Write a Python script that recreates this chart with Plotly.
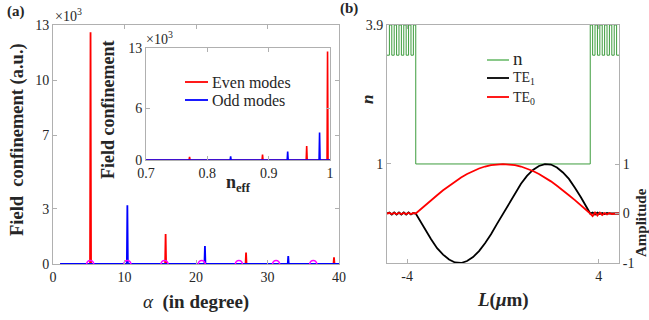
import plotly.graph_objects as go

W, H = 649, 320
FONT = "Liberation Serif"
TXT = "#262626"
AX = "#b0b0b0"


def px(x):
    return x / W


def py(y):
    return 1 - y / H


# ---------------- panel (a) data ----------------
alpha_even = [5.25, 15.75, 27.0, 39.3]          # degrees
conf_even = [12.6, 1.63, 0.62, 0.36]            # x10^3 a.u.
alpha_odd = [10.4, 21.25, 32.9]
conf_odd = [3.2, 0.98, 0.43]
neff_even = [0.996, 0.962, 0.890, 0.771]
neff_odd = [0.983, 0.931, 0.838]
alpha_marks = [5.2, 10.4, 15.6, 20.8, 26.0, 31.2, 36.4]
alpha_span = [1.0, 40.0]
neff_span = [0.7, 1.0]

# ---------------- panel (b) data ----------------
n_x = [-4.84, -4.74, -4.64, -4.54, -4.44, -4.34, -4.24, -4.14, -4.04, -3.94, -3.84, -3.74, -3.64,
       3.64, 3.74, 3.84, 3.94, 4.04, 4.14, 4.24, 4.34, 4.44, 4.54, 4.64, 4.74, 4.84]
n_val = [3.27, 3.9, 3.27, 3.9, 3.27, 3.9, 3.27, 3.9, 3.27, 3.9, 3.27, 3.9, 1.0,
         3.9, 3.27, 3.9, 3.27, 3.9, 3.27, 3.9, 3.27, 3.9, 3.27, 3.9, 3.27, 3.27]

clad_left_x = [-4.84, -4.74, -4.64, -4.54, -4.44, -4.34, -4.24, -4.14, -4.04, -3.94, -3.84, -3.74]
core_x = [-3.64, -3.25, -3.0, -2.75, -2.5, -2.25, -2.0, -1.75, -1.5, -1.25, -1.0, -0.75, -0.5, -0.25, 0.0,
          0.25, 0.5, 0.75, 1.0, 1.25, 1.5, 1.75, 2.0, 2.25, 2.5, 2.75, 3.0, 3.25, 3.64]
clad_right_x = [3.74, 3.84, 3.94, 4.04, 4.14, 4.24, 4.34, 4.44, 4.54, 4.64, 4.74, 4.84]

te0_left = [0.0, 0.01, -0.01, 0.01, -0.01, 0.01, -0.01, 0.01, -0.01, 0.01, -0.01, 0.01]
te0_core = [0.0, 0.17, 0.27, 0.37, 0.47, 0.56, 0.65, 0.73, 0.80, 0.86, 0.91, 0.95, 0.98, 0.99, 1.0,
            0.99, 0.98, 0.95, 0.91, 0.86, 0.80, 0.73, 0.65, 0.56, 0.47, 0.37, 0.27, 0.17, 0.0]
te0_right = [-0.05, 0.02, -0.04, 0.02, -0.03, 0.01, -0.02, 0.01, -0.01, 0.0, 0.0, 0.0]

te1_left = [0.0, 0.02, -0.02, 0.02, -0.02, 0.02, -0.02, 0.02, -0.02, 0.02, -0.02, 0.01]
te1_core = [0.0, -0.33, -0.52, -0.70, -0.83, -0.93, -0.99, -1.0, -0.96, -0.88, -0.76, -0.60, -0.42, -0.21, 0.0,
            0.21, 0.42, 0.60, 0.76, 0.88, 0.96, 1.0, 0.99, 0.93, 0.83, 0.70, 0.52, 0.33, 0.0]
te1_right = [0.02, -0.02, 0.02, -0.01, 0.01, -0.01, 0.01, 0.0, 0.0, 0.0, 0.0, 0.0]


def spikes(peaks, heights, span, half):
    pairs = sorted(zip(peaks, heights))
    xs, ys = [span[0]], [0]
    for p, h in pairs:
        xs += [p - half, p, p + half]
        ys += [0, h, 0]
    xs.append(span[1])
    ys.append(0)
    return xs, ys


fig = go.Figure()

# panel (a) main
ex, ey = spikes(alpha_even, conf_even, alpha_span, 0.07)
ox, oy = spikes(alpha_odd, conf_odd, alpha_span, 0.07)
fig.add_trace(go.Scatter(x=ex, y=ey, mode="lines", line=dict(color="#ff0000", width=1.8),
                         showlegend=False, xaxis="x", yaxis="y"))
fig.add_trace(go.Scatter(x=ox, y=oy, mode="lines", line=dict(color="#0000ff", width=1.8),
                         showlegend=False, xaxis="x", yaxis="y"))
fig.add_trace(go.Scatter(x=alpha_marks, y=[0] * len(alpha_marks), mode="markers",
                         marker=dict(symbol="circle-open", size=7, color="#ff00ff", line=dict(width=1.6)),
                         showlegend=False, xaxis="x", yaxis="y"))

# inset
iex, iey = spikes(neff_even, conf_even, neff_span, 0.0008)
iox, ioy = spikes(neff_odd, conf_odd, neff_span, 0.0008)
fig.add_trace(go.Scatter(x=iex, y=iey, mode="lines", line=dict(color="#ff0000", width=1.6),
                         name="Even modes", showlegend=False, xaxis="x2", yaxis="y2"))
fig.add_trace(go.Scatter(x=iox, y=ioy, mode="lines", line=dict(color="#0000ff", width=1.6),
                         name="Odd modes", showlegend=False, xaxis="x2", yaxis="y2"))

# panel (b)
fig.add_trace(go.Scatter(x=n_x, y=n_val, mode="lines", line=dict(color="#3d9c3d", width=1, shape="hv"),
                         name="n", showlegend=False, xaxis="x3", yaxis="y3"))
fig.add_trace(go.Scatter(x=clad_left_x + core_x + clad_right_x, y=te1_left + te1_core + te1_right,
                         mode="lines", line=dict(color="#000000", width=1.8),
                         name="TE1", showlegend=False, xaxis="x3", yaxis="y4"))
fig.add_trace(go.Scatter(x=clad_left_x + core_x + clad_right_x, y=te0_left + te0_core + te0_right,
                         mode="lines", line=dict(color="#ff0000", width=1.8),
                         name="TE0", showlegend=False, xaxis="x3", yaxis="y4"))

tickfont = dict(family=FONT, size=14, color=TXT)
common = dict(showline=True, linecolor=AX, linewidth=1, ticks="inside", ticklen=4, tickcolor=AX,
              showgrid=False, zeroline=False, tickfont=tickfont, automargin=False)

fig.update_layout(
    template="none",
    width=W, height=H, margin=dict(l=0, r=0, t=0, b=0, pad=0),
    paper_bgcolor="white", plot_bgcolor="white", showlegend=False,
    font=dict(family=FONT, color=TXT),
    xaxis=dict(domain=[px(53), px(339)], range=[0, 40], tickvals=[0, 10, 20, 30, 40],
               mirror="ticks", anchor="y", **common),
    yaxis=dict(domain=[py(264), py(25)], range=[0, 13], tickvals=[0, 3, 7, 10, 13],
               mirror="ticks", anchor="x", **common),
    xaxis2=dict(domain=[px(146), px(330)], range=[0.7, 1.0], tickvals=[0.7, 0.8, 0.9, 1.0],
                ticktext=["0.7", "0.8", "0.9", "1"], mirror="ticks", anchor="y2", **common),
    yaxis2=dict(domain=[py(160), py(48)], range=[0, 13], tickvals=[0, 6, 13],
                mirror="ticks", anchor="x2", **common),
    xaxis3=dict(domain=[px(387), px(619)], range=[-4.84, 4.84], tickvals=[-4, 4],
                ticktext=["-4", "4"], mirror="ticks", anchor="y3", **common),
    yaxis3=dict(domain=[py(263), py(25)], range=[-1.067, 3.9], tickvals=[1, 3.9],
                ticktext=["1", "3.9"], anchor="x3", **common),
    yaxis4=dict(domain=[py(263), py(25)], range=[-1, 3.81], tickvals=[-1, 0, 1],
                ticktext=["-1", "0", "1"], overlaying="y3", side="right", anchor="x3", **common),
)

ann = []
shapes = []


def add(text, x, y, size, angle=0, xa="center"):
    ann.append(dict(text=text, x=px(x), y=py(y), xref="paper", yref="paper", showarrow=False,
                    xanchor=xa, yanchor="middle", textangle=angle,
                    font=dict(family=FONT, size=size, color=TXT)))


def key(x0, x1, y, color, width=1.8):
    shapes.append(dict(type="line", xref="paper", yref="paper", x0=px(x0), x1=px(x1),
                       y0=py(y), y1=py(y), line=dict(color=color, width=width)))


add("<b>(a)</b>", 16, 12, 15)
add("×10<sup>3</sup>", 68, 15, 14)
add("×10<sup>3</sup>", 159, 38, 14)
add("<b>Field  confinement (a.u.)</b>", 17, 140, 18.5, -90)
add("<i>α</i>  <b>(in degree)</b>", 196, 302, 19)
add("<b>Field confinement</b>", 108, 110, 18, -90)
add("<b>n<sub>eff</sub></b>", 238, 183, 18)
add("<b>(b)</b>", 349, 9, 15)
add("<b><i>n</i></b>", 367, 100, 17, -90)
add("<b>Amplitude</b>", 641, 223, 15, -90)
add("<b><i>L</i>(<i>μ</i>m)</b>", 503, 300, 19)

# inset legend
key(185, 208, 82, "#ff0000")
add("Even modes", 210, 82, 16, xa="left")
key(185, 208, 100, "#0000ff")
add("Odd modes", 210, 100, 16, xa="left")

# panel (b) legend
key(487, 509, 60, "#6dbb6d", 1.6)
add("n", 511, 59, 19, xa="left")
key(487, 509, 78, "#000000")
add("TE<sub>1</sub>", 511, 79, 14, xa="left")
key(487, 509, 97, "#ff0000")
add("TE<sub>0</sub>", 511, 98, 14, xa="left")

fig.update_layout(annotations=ann, shapes=shapes)

fig.write_html("out.html", config={"displayModeBar": False, "staticPlot": True},
               post_script=["document.body.style.margin='0px';document.body.style.overflow='hidden';"])
